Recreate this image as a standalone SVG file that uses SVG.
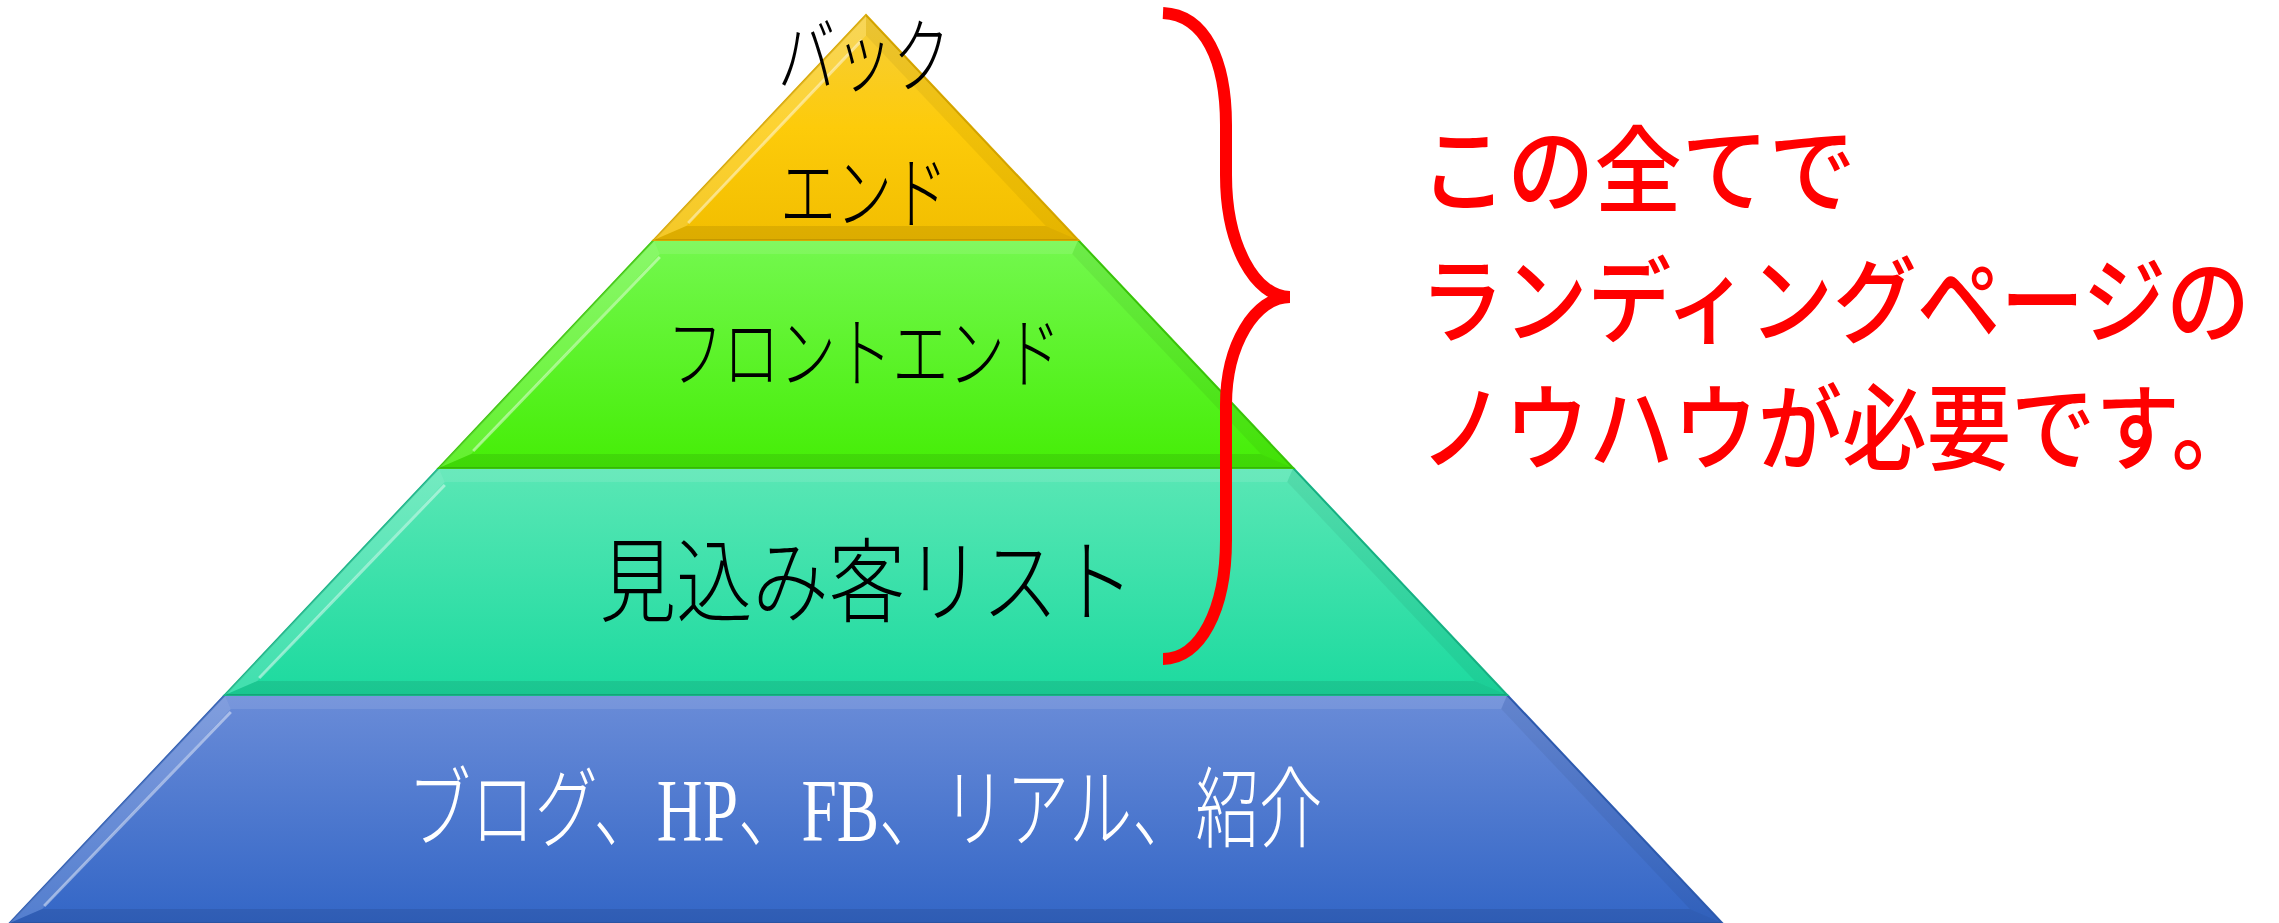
<svg xmlns="http://www.w3.org/2000/svg" width="2279" height="923" viewBox="0 0 2279 923">
<defs>
<linearGradient id="gY" x1="0" y1="0" x2="0" y2="1"><stop offset="0" stop-color="#F6CE3A"/><stop offset="0.5" stop-color="#FDCB0A"/><stop offset="1" stop-color="#F2BE00"/></linearGradient>
<linearGradient id="gG" x1="0" y1="0" x2="0" y2="1"><stop offset="0" stop-color="#74F84F"/><stop offset="1" stop-color="#45EE06"/></linearGradient>
<linearGradient id="gT" x1="0" y1="0" x2="0" y2="1"><stop offset="0" stop-color="#5AE7B5"/><stop offset="1" stop-color="#1CDA9F"/></linearGradient>
<linearGradient id="gB" x1="0" y1="0" x2="0" y2="1"><stop offset="0" stop-color="#6A8CD8"/><stop offset="1" stop-color="#3366C6"/></linearGradient>
<style>
.hl{fill:#ffffff;fill-opacity:0.16}
.tp{fill:#ffffff;fill-opacity:0.10}
.dk{fill:#000000;fill-opacity:0.05}
.bt{fill:#000000;fill-opacity:0.09}
.ln{fill:none;stroke:#ffffff;stroke-opacity:0.45;stroke-width:3}
.lbl{font-family:"Liberation Serif","Noto Sans CJK JP",serif;font-weight:300;text-anchor:middle}
.red{font-family:"Noto Sans CJK JP",sans-serif;font-weight:500;fill:#FF0000;font-size:84px}
</style>
</defs>

<g id="layer-base">
<polygon points="224.8,695 1507.2,695 1722.2,923 9.8,923" fill="url(#gB)" stroke="#2F5DB3" stroke-width="2"/>
<polygon class="hl" points="224.8,695 230.8,709 42.2,909 9.8,923"/>
<polygon class="tp" points="224.8,695 1507.2,695 1501.2,709 230.8,709"/>
<polygon class="dk" points="1507.2,695 1722.2,923 1689.8,909 1501.2,709"/>
<polygon class="bt" points="42.2,909 1689.8,909 1722.2,923 9.8,923"/>
<polyline class="ln" points="230.8,712 44.2,906"/>
<text class="lbl" x="865" y="840" font-size="88" fill="#FFFFFF" textLength="915" lengthAdjust="spacingAndGlyphs">ブログ、HP、FB、リアル、紹介</text>
</g>

<g id="layer-list">
<polygon points="438.8,468 1293.2,468 1507.2,695 224.8,695" fill="url(#gT)" stroke="#17B586" stroke-width="2"/>
<polygon class="hl" points="438.8,468 444.8,482 257.2,681 224.8,695"/>
<polygon class="tp" points="438.8,468 1293.2,468 1287.2,482 444.8,482"/>
<polygon class="dk" points="1293.2,468 1507.2,695 1474.8,681 1287.2,482"/>
<polygon class="bt" points="257.2,681 1474.8,681 1507.2,695 224.8,695"/>
<polyline class="ln" points="444.8,485 259.2,678"/>
<text class="lbl" x="867" y="615" font-size="92" fill="#000000" textLength="535" lengthAdjust="spacingAndGlyphs">見込み客リスト</text>
</g>

<g id="layer-front">
<polygon points="653.8,240 1078.2,240 1293.2,468 438.8,468" fill="url(#gG)" stroke="#3BC80A" stroke-width="2"/>
<polygon class="hl" points="653.8,240 659.8,254 471.2,454 438.8,468"/>
<polygon class="tp" points="653.8,240 1078.2,240 1072.2,254 659.8,254"/>
<polygon class="dk" points="1078.2,240 1293.2,468 1260.8,454 1072.2,254"/>
<polygon class="bt" points="471.2,454 1260.8,454 1293.2,468 438.8,468"/>
<polyline class="ln" points="659.8,257 473.2,451"/>
<text class="lbl" x="864" y="382" font-size="78" fill="#000000" textLength="394" lengthAdjust="spacingAndGlyphs">フロントエンド</text>
</g>

<g id="layer-back">
<polygon points="866,15 1078.2,240 653.8,240" fill="url(#gY)" stroke="#D9A800" stroke-width="2"/>
<polygon class="hl" points="866,15 866,35.4 686.2,226 653.8,240"/>
<polygon class="dk" points="866,15 1078.2,240 1045.8,226 866,35.4"/>
<polygon class="bt" points="686.2,226 1045.8,226 1078.2,240 653.8,240"/>
<polyline class="ln" points="862,40 688.2,223"/>
<text class="lbl" x="864" y="86" font-size="82" fill="#000000" textLength="173" lengthAdjust="spacingAndGlyphs">バック</text>
<text class="lbl" x="864" y="222" font-size="80" fill="#000000" textLength="168" lengthAdjust="spacingAndGlyphs">エンド</text>
</g>

<g id="connectors">
<path d="M1163,13 C1205,15 1226,60 1226,125 L1226,175 C1226,245 1255,297 1290,297 C1255,297 1226,345 1226,405 L1226,540 C1226,610 1200,659 1163,659" fill="none" stroke="#FF0000" stroke-width="12"/>
</g>

<g id="note">
<text class="red" transform="translate(1420,205) scale(1,1.13)" x="0" y="0" textLength="436" lengthAdjust="spacingAndGlyphs">この全てで</text>
<text class="red" transform="translate(1420,336) scale(1,1.13)" x="0" y="0" textLength="830" lengthAdjust="spacingAndGlyphs">ランディングページの</text>
<text class="red" transform="translate(1420,463) scale(1,1.13)" x="0" y="0" textLength="836" lengthAdjust="spacingAndGlyphs">ノウハウが必要です。</text>
</g>
</svg>
